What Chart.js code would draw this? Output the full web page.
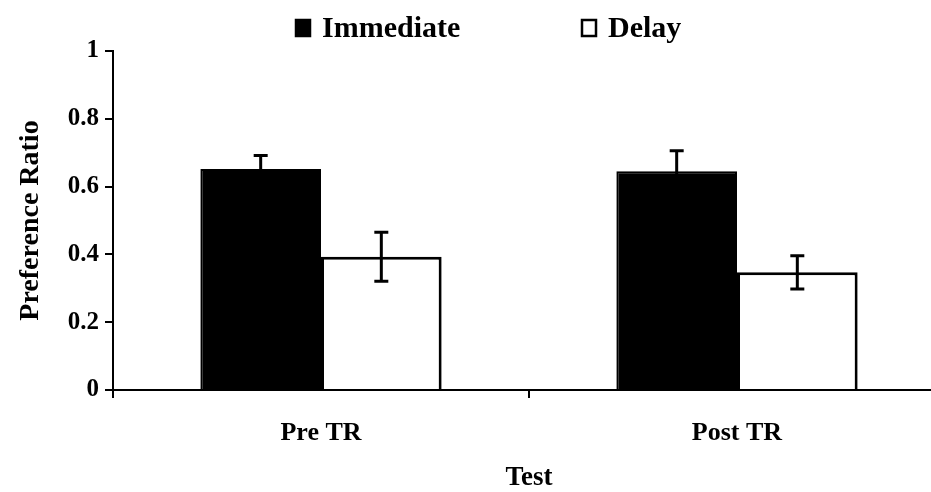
<!DOCTYPE html>
<html>
<head>
<meta charset="utf-8">
<script src="https://cdn.jsdelivr.net/npm/chart.js@4"></script>
<style>
  html, body { margin: 0; padding: 0; background: #fff; overflow: hidden; }
  #wrap { width: 945px; height: 494px; position: relative; }
</style>
</head>
<body>
<div id="wrap"><canvas id="chart"></canvas></div>
<script>
// Preference ratio by test phase
const tests = ["Pre TR", "Post TR"];
const immediate = [0.652, 0.645];
const immediateErr = [0.040, 0.061];
const delay = [0.393, 0.347];
const delayErr = [0.072, 0.049];
const yTicks = [0, 0.2, 0.4, 0.6, 0.8, 1];

const FONT = "'Liberation Serif', 'Times New Roman', serif";

// whiskers with caps, drawn from the y scale
const errorBars = {
    id: "errorBars",
    afterDatasetsDraw(chart) {
        const ctx = chart.ctx;
        const y = chart.scales.y;
        const errs = [immediateErr, delayErr];
        ctx.save();
        ctx.strokeStyle = "#000";
        ctx.lineWidth = 3;
        chart.data.datasets.forEach((ds, i) => {
            const meta = chart.getDatasetMeta(i);
            meta.data.forEach((bar, j) => {
                const v = ds.data[j];
                const e = errs[i][j];
                const top = y.getPixelForValue(v + e);
                const bot = y.getPixelForValue(v - e);
                const x = bar.x;
                ctx.beginPath();
                ctx.moveTo(x, top); ctx.lineTo(x, bot);
                ctx.moveTo(x - 7, top); ctx.lineTo(x + 7, top);
                ctx.moveTo(x - 7, bot); ctx.lineTo(x + 7, bot);
                ctx.stroke();
            });
        });
        ctx.restore();
    }
};

// legend row above the plot, wide gap between the two entries
const topLegend = {
    id: "topLegend",
    afterDraw(chart) {
        const ctx = chart.ctx;
        const starts = [295, 581];
        const cy = 28;
        ctx.save();
        ctx.font = "bold 30px " + FONT;
        ctx.textBaseline = "middle";
        ctx.fillStyle = "#000";
        chart.data.datasets.forEach((ds, i) => {
            const x = starts[i];
            ctx.fillStyle = ds.backgroundColor;
            ctx.fillRect(x, cy - 9, 16, 18);
            ctx.strokeStyle = "#000";
            ctx.lineWidth = 2.5;
            ctx.strokeRect(x + 1, cy - 8, 14, 16);
            ctx.fillStyle = "#000";
            ctx.fillText(ds.label, x + 27, cy + 1);
        });
        ctx.restore();
    }
};

new Chart(document.getElementById("chart"), {
    type: "bar",
    data: {
        labels: tests,
        datasets: [
            { label: "Immediate", data: immediate, backgroundColor: "#000", borderColor: "#000", borderWidth: 2 },
            { label: "Delay", data: delay, backgroundColor: "#fff", borderColor: "#000", borderWidth: 3 }
        ]
    },
    options: {
        responsive: true,
        maintainAspectRatio: false,
        animation: false,
        layout: { padding: { left: 0, right: 0, top: 51, bottom: 0 } },
        datasets: { bar: { barPercentage: 1, categoryPercentage: 0.58 } },
        plugins: {
            tooltip: { enabled: false },
            legend: { display: false }
        },
        scales: {
            x: {
                afterFit(s) { s.height = 104; },
                grid: { display: true, drawOnChartArea: false, drawTicks: true, tickLength: 8, color: "#000", lineWidth: 2, offset: true },
                border: { color: "#000", width: 2 },
                ticks: { color: "#000", font: { family: FONT, size: 26, weight: "bold" }, padding: 20 },
                title: { display: true, text: "Test", color: "#000", font: { family: FONT, size: 27, weight: "bold" }, padding: { top: 16, bottom: 0 } }
            },
            y: {
                min: 0,
                max: 1,
                afterFit(s) { s.width = 113; },
                afterBuildTicks(s) { s.ticks = yTicks.map(v => ({ value: v })); },
                grid: { display: true, drawOnChartArea: false, drawTicks: true, tickLength: 8, color: "#000", lineWidth: 2 },
                border: { color: "#000", width: 2 },
                ticks: {
                    color: "#000",
                    font: { family: FONT, size: 25, weight: "bold" },
                    padding: 6,
                    callback: v => String(v)
                },
                title: { display: true, text: "Preference Ratio", color: "#000", font: { family: FONT, size: 28, weight: "bold" }, padding: { top: 14, bottom: 0 } }
            }
        }
    },
    plugins: [errorBars, topLegend]
});
</script>
</body>
</html>
